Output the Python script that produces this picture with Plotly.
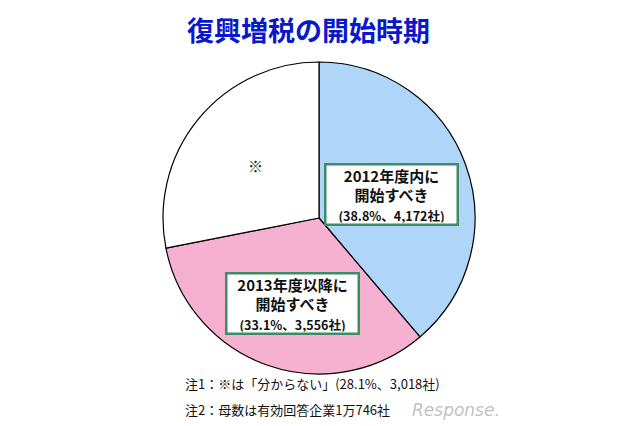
import plotly.graph_objects as go

# data
labels = ["2012年度内に<br>開始すべき", "2013年度以降に<br>開始すべき", "分からない"]
shares = [38.8, 33.1, 28.1]
counts = ["4,172", "3,556", "3,018"]
colors = ["#afd5f8", "#f6b0d0", "#ffffff"]

title = "復興増税の開始時期"
note1 = "注1：※は「分からない」(28.1%、3,018社)"
note2 = "注2：母数は有効回答企業1万746社"

W, H = 640, 426
OFF = 8  # page body margin shifts the figure
jp = "Noto Sans CJK JP"


def px_x(v):
    return (v - OFF) / W


def px_y(v):
    return 1 - (v - OFF) / H


fig = go.Figure()
fig.add_trace(go.Pie(
    labels=labels, values=shares, sort=False, direction="clockwise", rotation=0,
    marker=dict(colors=colors, line=dict(color="#000000", width=1.2)),
    textinfo="none", hoverinfo="label+percent",
    domain=dict(x=[px_x(163), px_x(475)], y=[px_y(374), px_y(62)]),
    showlegend=False,
))

# label boxes on the slices
box_pos = [(391, 194), (292, 303)]
for lab, s, c, (bx, by) in zip(labels[:2], shares[:2], counts[:2], box_pos):
    fig.add_annotation(
        x=px_x(bx), y=px_y(by), xref="paper", yref="paper", showarrow=False,
        xanchor="center", yanchor="middle",
        text="<b>" + lab + "</b><br><span style='font-size:12.5px'><b>(" + f"{s}%、{c}社" + ")</b></span>",
        font=dict(family=jp, size=15, color="#111111"),
        bgcolor="#ffffff", bordercolor="#3c8c64", borderwidth=2.5, borderpad=1,
        width=128, height=56, align="center", valign="middle",
    )

fig.add_annotation(x=px_x(255), y=px_y(165), xref="paper", yref="paper", showarrow=False,
                   yanchor="middle", text="※", font=dict(family=jp, size=15, color="#222222"))

fig.add_annotation(x=px_x(308), y=px_y(30), xref="paper", yref="paper", showarrow=False,
                   yanchor="middle", text="<b>" + title + "</b>",
                   font=dict(family=jp, size=27, color="#0a18cc"))

fig.add_annotation(x=px_x(183), y=px_y(383), xref="paper", yref="paper", showarrow=False,
                   xanchor="left", yanchor="middle", text=note1,
                   font=dict(family=jp, size=13, color="#111111"))
fig.add_annotation(x=px_x(183), y=px_y(409), xref="paper", yref="paper", showarrow=False,
                   xanchor="left", yanchor="middle", text=note2,
                   font=dict(family=jp, size=13, color="#111111"))

# watermark
fig.add_annotation(x=px_x(410), y=px_y(410), xref="paper", yref="paper", showarrow=False,
                   xanchor="left", yanchor="middle", text="<i>Response.</i>",
                   font=dict(family="DejaVu Sans", size=17, color="rgba(150,150,150,0.6)"))

fig.update_layout(
    width=W, height=H, margin=dict(l=0, r=0, t=0, b=0),
    paper_bgcolor="#ffffff", plot_bgcolor="#ffffff",
)

fig.write_html("out.html")
